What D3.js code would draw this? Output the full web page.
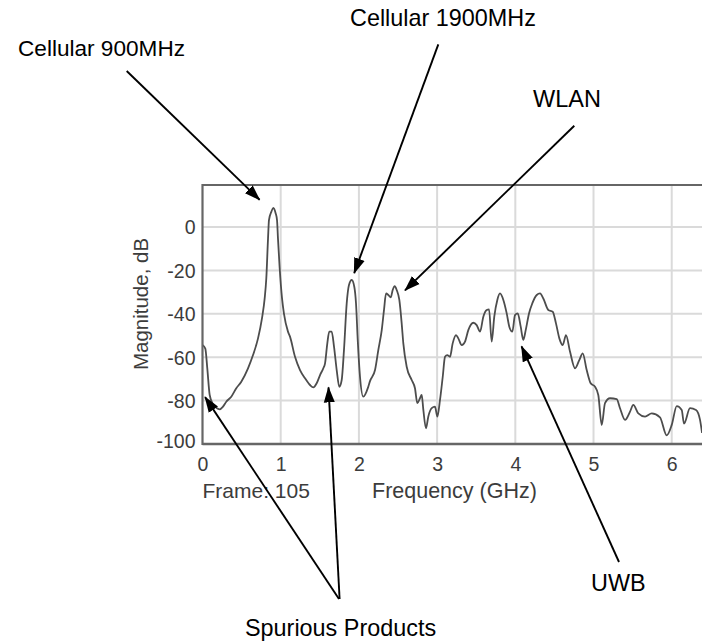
<!DOCTYPE html>
<html>
<head>
<meta charset="utf-8">
<script src="https://cdn.jsdelivr.net/npm/d3@7"></script>
<style>
  html, body { margin: 0; padding: 0; background: #fff; }
  svg { display: block; }
  text { font-family: "Liberation Sans", Arial, sans-serif; }
</style>
</head>
<body>
<svg id="chart" width="702" height="642"></svg>
<script>
// Spectrum trace: frequency (GHz) and magnitude (dB)
const freqGHz = [
  0.00, 0.036, 0.061, 0.092, 0.134, 0.176, 0.220, 0.262, 0.304, 0.368,
  0.432, 0.496, 0.582, 0.646, 0.710, 0.761, 0.795, 0.816, 0.838, 0.850,
  0.880, 0.905, 0.936, 0.953, 0.965, 0.987, 1.017, 1.042, 1.093, 1.119,
  1.183, 1.247, 1.311, 1.375, 1.417, 1.460, 1.503, 1.545, 1.567, 1.596,
  1.621, 1.652, 1.682, 1.716, 1.749, 1.780, 1.809, 1.844, 1.873, 1.908,
  1.941, 1.963, 1.985, 2.014, 2.056, 2.120, 2.142, 2.206, 2.248, 2.292,
  2.321, 2.347, 2.376, 2.407, 2.432, 2.458, 2.483, 2.517, 2.547, 2.568,
  2.611, 2.675, 2.717, 2.747, 2.781, 2.803, 2.824, 2.858, 2.887, 2.931,
  2.973, 3.003, 3.037, 3.072, 3.101, 3.130, 3.165, 3.199, 3.242, 3.271,
  3.315, 3.357, 3.399, 3.463, 3.506, 3.549, 3.591, 3.634, 3.664, 3.698,
  3.731, 3.770, 3.804, 3.847, 3.890, 3.923, 3.962, 3.996, 4.031, 4.069,
  4.102, 4.133, 4.175, 4.217, 4.274, 4.316, 4.358, 4.422, 4.478, 4.520,
  4.563, 4.606, 4.648, 4.700, 4.764, 4.818, 4.862, 4.913, 4.964, 5.019,
  5.061, 5.105, 5.147, 5.211, 5.297, 5.339, 5.403, 5.467, 5.509, 5.573,
  5.659, 5.744, 5.850, 5.936, 6.000, 6.064, 6.128, 6.157, 6.234, 6.311,
  6.362, 6.388
];
const magDB = [
  -54.4, -56.0, -65.0, -77.4, -81.7, -83.3, -84.0, -82.8, -80.5, -78.2,
  -74.3, -71.3, -65.1, -59.0, -51.3, -42.0, -32.9, -23.6, -5.2, 3.2,
  7.0, 8.8, 6.3, 3.2, -5.2, -19.0, -32.9, -40.0, -48.2, -50.5,
  -59.8, -65.9, -69.7, -72.8, -73.9, -72.0, -68.2, -65.1, -62.8, -53.6,
  -48.2, -48.2, -55.2, -65.9, -73.6, -70.5, -56.7, -35.2, -26.7, -24.4,
  -27.5, -35.2, -52.0, -69.0, -78.2, -73.6, -71.0, -65.9, -56.7, -47.5,
  -38.2, -30.6, -31.3, -32.4, -29.0, -27.2, -29.0, -33.6, -44.4, -53.6,
  -64.4, -70.5, -74.3, -81.2, -78.9, -77.4, -84.3, -92.8, -87.4, -83.5,
  -82.8, -87.4, -79.7, -69.0, -59.8, -59.0, -59.8, -53.6, -49.8, -51.3,
  -54.4, -52.8, -47.5, -44.1, -45.2, -48.2, -41.3, -38.2, -37.9, -52.8,
  -41.3, -33.6, -30.6, -33.6, -39.8, -45.9, -48.2, -40.6, -39.8, -45.9,
  -52.0, -47.5, -39.8, -35.2, -31.3, -30.6, -32.9, -38.2, -39.0, -44.4,
  -51.3, -54.4, -49.8, -57.5, -65.1, -61.3, -58.2, -65.9, -72.0, -73.6,
  -77.4, -91.2, -81.2, -78.9, -79.3, -83.5, -88.9, -85.1, -82.0, -85.9,
  -87.4, -85.9, -87.7, -96.0, -91.2, -82.5, -84.3, -90.6, -83.5, -84.3,
  -88.9, -94.9
];

// Axis ticks
const xTicks = [0, 1, 2, 3, 4, 5, 6];
const yTicks = [0, -20, -40, -60, -80, -100];

// Callouts: label text and the (freq, dB) points each arrow marks
const calloutLabels = ["Cellular 900MHz", "Cellular 1900MHz", "WLAN", "UWB", "Spurious Products"];
const calloutTargets = [
  [[0.73, 12.6]],
  [[1.94, -21.2]],
  [[2.59, -29.2]],
  [[4.08, -55.0]],
  [[0.033, -78.4], [1.611, -73.9]]
];

const svg = d3.select("#chart");
const plot = { left: 202.5, right: 703, top: 185, bottom: 444 };

const x = d3.scaleLinear().domain([0, 6.4]).range([plot.left, plot.right]);
const y = d3.scaleLinear().domain([-100, 19.4]).range([plot.bottom, plot.top]);

const axisColor = "#3c3c3c";

// grid
const grid = svg.append("g");
grid.selectAll("line.v").data(xTicks.filter(d => d > 0)).join("line")
  .attr("x1", d => x(d)).attr("x2", d => x(d))
  .attr("y1", plot.top).attr("y2", plot.bottom)
  .attr("stroke", "#dadada").attr("stroke-width", 2);
grid.selectAll("line.h").data(yTicks.filter(d => d > -100)).join("line")
  .attr("x1", plot.left).attr("x2", plot.right)
  .attr("y1", d => y(d)).attr("y2", d => y(d))
  .attr("stroke", "#dadada").attr("stroke-width", 2);

// trace
const pts = freqGHz.map((f, i) => [f, magDB[i]]);
svg.append("path")
  .datum(pts)
  .attr("fill", "none")
  .attr("stroke", "#4d4d4d")
  .attr("stroke-width", 1.8)
  .attr("stroke-linejoin", "round")
  .attr("d", d3.line().x(d => x(d[0])).y(d => y(d[1])).curve(d3.curveMonotoneX));

// frame: top, left, bottom
const frame = svg.append("g").attr("stroke", "#666").attr("fill", "none");
frame.append("line").attr("x1", plot.left).attr("x2", plot.right)
  .attr("y1", plot.top).attr("y2", plot.top).attr("stroke-width", 2.2);
frame.append("line").attr("x1", plot.left).attr("x2", plot.left)
  .attr("y1", plot.top - 1).attr("y2", plot.bottom + 1).attr("stroke-width", 2.2);
frame.append("line").attr("x1", plot.left).attr("x2", plot.right)
  .attr("y1", plot.bottom).attr("y2", plot.bottom).attr("stroke-width", 2.6);

// axes (labels only, the grid carries the ticks)
const fmt = d => String(d);
const xAxis = d3.axisBottom(x).tickValues(xTicks).tickSize(0).tickPadding(0).tickFormat(fmt);
const gx = svg.append("g").attr("transform", `translate(0,${plot.bottom})`).call(xAxis);
gx.select(".domain").remove();
gx.selectAll("text").attr("dy", null).attr("y", 27)
  .style("font-size", "19.5px").attr("fill", axisColor);

const yAxis = d3.axisLeft(y).tickValues(yTicks).tickSize(0).tickPadding(0).tickFormat(fmt);
const gy = svg.append("g").attr("transform", `translate(${plot.left - 7},0)`).call(yAxis);
gy.select(".domain").remove();
gy.selectAll("text").attr("dy", "0.35em")
  .style("font-size", "19.5px").attr("fill", axisColor);
gy.selectAll("text").filter(d => d === -100).attr("dy", "0.2em");

// axis titles
svg.append("text").attr("x", plot.left).attr("y", 497.5)
  .style("font-size", "21px").attr("fill", axisColor).text("Frame: 105");
svg.append("text").attr("x", 372).attr("y", 497.5)
  .style("font-size", "21.5px").attr("fill", axisColor).text("Frequency (GHz)");
svg.append("text")
  .attr("transform", "translate(148,304) rotate(-90)")
  .attr("text-anchor", "middle")
  .style("font-size", "20.5px").attr("fill", axisColor).text("Magnitude, dB");

// callouts
const defs = svg.append("defs");
defs.append("marker")
  .attr("id", "arrowhead")
  .attr("markerUnits", "userSpaceOnUse")
  .attr("viewBox", "0 -6 16 12")
  .attr("refX", 15).attr("refY", 0)
  .attr("markerWidth", 16).attr("markerHeight", 12)
  .attr("orient", "auto")
  .append("path").attr("d", "M0,-5.5L16,0L0,5.5Z").attr("fill", "#000");

const labelPos = [[18, 56], [350, 26], [533, 107], [591, 591], [245, 636]];
const labelSize = [22.6, 23.4, 23.5, 23.4, 23.4];
const arrowFrom = [[[126.7, 71]], [[438.3, 44.3]], [[574.3, 125.7]], [[619, 562]], [[339, 599], [339.6, 599]]];

calloutLabels.forEach((lab, i) => {
  svg.append("text").attr("x", labelPos[i][0]).attr("y", labelPos[i][1])
    .style("font-size", labelSize[i] + "px").attr("fill", "#000").text(lab);
  calloutTargets[i].forEach((t, j) => {
    const from = arrowFrom[i][j];
    svg.append("line")
      .attr("x1", from[0]).attr("y1", from[1])
      .attr("x2", x(t[0])).attr("y2", y(t[1]))
      .attr("stroke", "#000").attr("stroke-width", 1.9)
      .attr("marker-end", "url(#arrowhead)");
  });
});
</script>
</body>
</html>
